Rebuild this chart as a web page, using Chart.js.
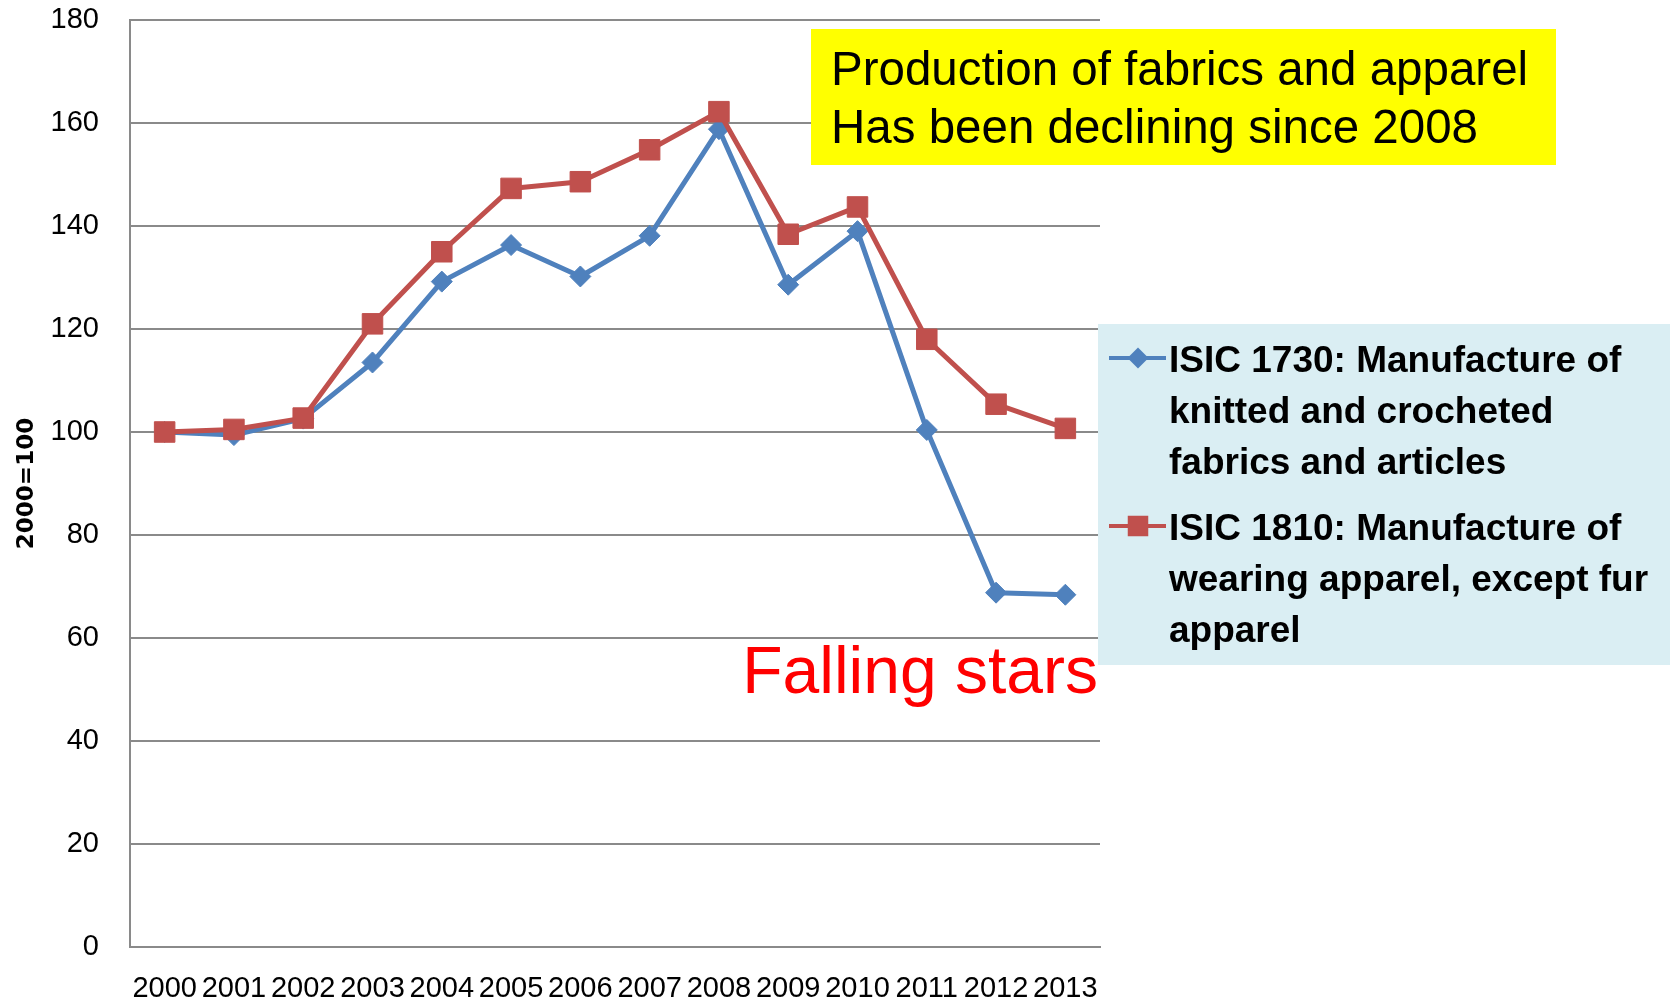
<!DOCTYPE html>
<html><head><meta charset="utf-8">
<script src="https://cdn.jsdelivr.net/npm/chart.js@4"></script>
<style>html,body{margin:0;padding:0;background:#fff;overflow:hidden}#wrap{width:1670px;height:1004px;position:relative}</style>
</head><body><div id="wrap"><canvas id="c" width="1670" height="1004"></canvas></div>
<script>
// ---- data ----
const years = ['2000','2001','2002','2003','2004','2005','2006','2007','2008','2009','2010','2011','2012','2013'];
const isic1730 = [100, 99.4, 102.6, 113.5, 129.2, 136.3, 130.2, 138.1, 158.8, 128.6, 139.0, 100.4, 68.8, 68.4];
const isic1810 = [100, 100.5, 102.7, 121.0, 135.0, 147.3, 148.6, 154.8, 162.2, 138.4, 143.7, 118.0, 105.4, 100.7];
const seriesLabels = [
  'ISIC 1730: Manufacture of knitted and crocheted fabrics and articles',
  'ISIC 1810: Manufacture of wearing apparel, except fur apparel'
];
const yMin = 0, yMax = 180, yStep = 20;
const yAxisTitle = '2000=100';
const titleLines = ['Production of fabrics and apparel', 'Has been declining since 2008'];
const noteText = 'Falling stars';

const BLUE = '#4F81BD', RED = '#C0504D', GRID = '#8A8A8A';

function wrapText(ctx, text, maxW) {
  const words = text.split(' ');
  const lines = [];
  let cur = '';
  for (const w of words) {
    const t = cur ? cur + ' ' + w : w;
    if (ctx.measureText(t).width > maxW && cur) { lines.push(cur); cur = w; }
    else cur = t;
  }
  if (cur) lines.push(cur);
  return lines;
}

function drawMarker(ctx, style, x, y, r, color) {
  ctx.fillStyle = color;
  ctx.beginPath();
  if (style === 'rectRot') {
    ctx.moveTo(x - r, y); ctx.lineTo(x, y - r); ctx.lineTo(x + r, y); ctx.lineTo(x, y + r);
    ctx.closePath();
  } else {
    const s = Math.SQRT1_2 * r;
    ctx.rect(x - s, y - s, 2 * s, 2 * s);
  }
  ctx.fill();
}

const annotPlugin = {
  id: 'annot',
  afterDraw(chart) {
    const ctx = chart.ctx;
    ctx.save();
    // title box
    ctx.fillStyle = '#FFFF00';
    ctx.fillRect(811, 29, 745, 136);
    ctx.fillStyle = '#000';
    ctx.font = '47.5px "Liberation Sans", Arial, sans-serif';
    ctx.textAlign = 'left';
    ctx.textBaseline = 'alphabetic';
    ctx.fillText(titleLines[0], 831, 85);
    ctx.fillText(titleLines[1], 831, 143);
    // note
    ctx.fillStyle = '#FF0000';
    ctx.font = '66px "Liberation Sans", Arial, sans-serif';
    ctx.textAlign = 'right';
    ctx.fillText(noteText, 1098, 693);
    // legend
    ctx.fillStyle = '#DAEEF3';
    ctx.fillRect(1098, 324, 572, 341);
    ctx.font = 'bold 37px "Liberation Sans", Arial, sans-serif';
    ctx.textAlign = 'left';
    let base = 372;
    chart.data.datasets.forEach(ds => {
      const lines = wrapText(ctx, ds.label, 495);
      const my = base - 14;
      ctx.strokeStyle = ds.borderColor;
      ctx.lineWidth = 4;
      ctx.beginPath(); ctx.moveTo(1109, my); ctx.lineTo(1166, my); ctx.stroke();
      drawMarker(ctx, ds.pointStyle, 1138, my, ds.pointRadius, ds.borderColor);
      ctx.fillStyle = '#000';
      lines.forEach((l, j) => ctx.fillText(l, 1169, base + j * 51));
      base += lines.length * 51 + 15;
    });
    ctx.restore();
  }
};

const tickFont = { family: '"Liberation Sans", Arial, sans-serif', size: 29 };

new Chart(document.getElementById('c'), {
  type: 'line',
  data: {
    labels: years,
    datasets: [
      { label: seriesLabels[0], data: isic1730, borderColor: BLUE, backgroundColor: BLUE,
        borderWidth: 5, pointStyle: 'rectRot', pointRadius: 10.5, pointBorderWidth: 1,
        borderJoinStyle: 'round', tension: 0, order: 1 },
      { label: seriesLabels[1], data: isic1810, borderColor: RED, backgroundColor: RED,
        borderWidth: 5, pointStyle: 'rect', pointRadius: 14.5, pointBorderWidth: 1,
        borderJoinStyle: 'round', tension: 0, order: 0 }
    ]
  },
  options: {
    responsive: false, animation: false, devicePixelRatio: 1,
    layout: { padding: { top: 20, right: 570, left: 0, bottom: 0 } },
    plugins: { legend: { display: false }, tooltip: { enabled: false } },
    scales: {
      x: {
        offset: true,
        grid: { display: false, drawTicks: false, offset: true },
        border: { color: GRID, width: 2 },
        ticks: { font: tickFont, color: '#000', padding: 25, maxRotation: 0, autoSkip: false },
        afterFit(s) { s.height = 57; s.paddingLeft = 0; s.paddingRight = 0; s.paddingTop = 0; s.paddingBottom = 0; }
      },
      y: {
        min: yMin, max: yMax,
        ticks: { stepSize: yStep, font: tickFont, color: '#000', padding: 31 },
        grid: { color: GRID, lineWidth: 2, drawTicks: false },
        border: { color: GRID, width: 2 },
        title: { display: true, text: yAxisTitle, color: '#000',
          font: { family: '"DejaVu Sans", Verdana, sans-serif', weight: 'bold', size: 23 },
          padding: { top: 13, bottom: 0 } },
        afterFit(s) { s.width = 130; s.paddingTop = 0; s.paddingBottom = 0; s.paddingLeft = 0; s.paddingRight = 0; }
      }
    }
  },
  plugins: [annotPlugin]
});
</script>
</body></html>
